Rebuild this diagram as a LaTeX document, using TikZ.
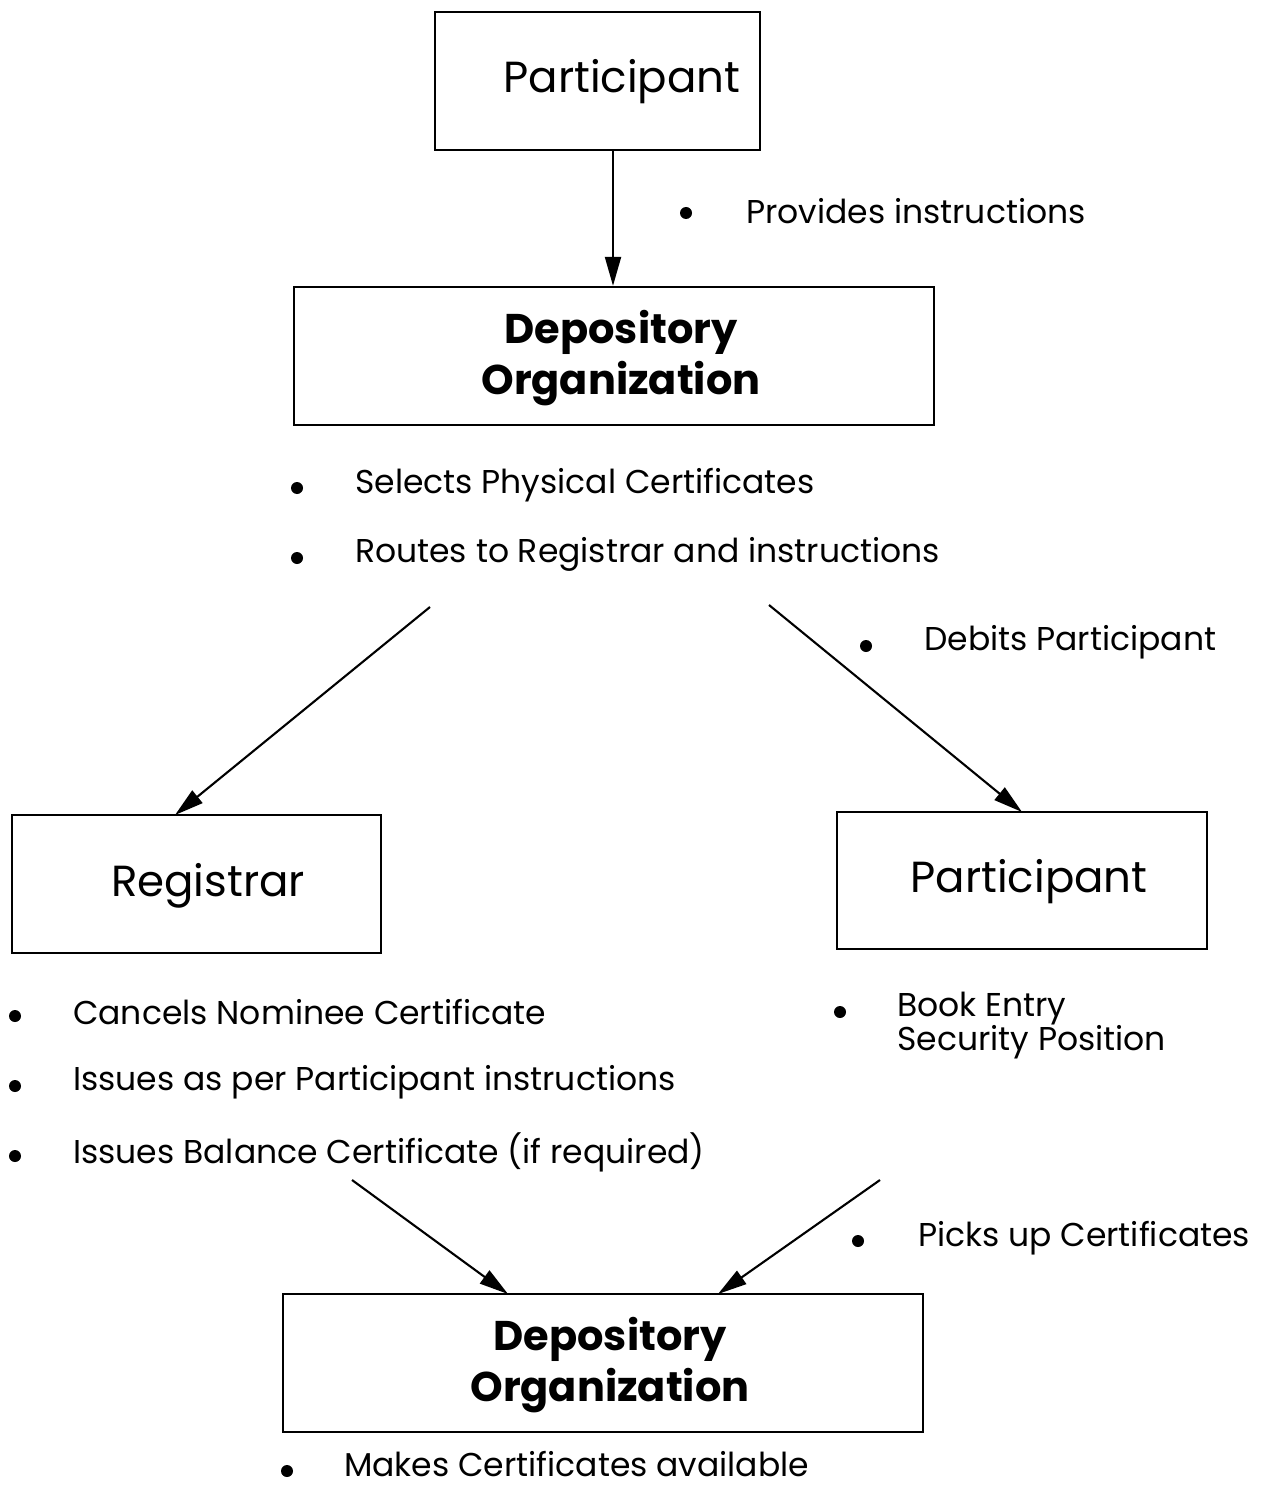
\documentclass[tikz,border=0pt]{standalone}
\usepackage{fontspec}
\setmainfont{Poppins}
\usetikzlibrary{arrows.meta,calc}
\begin{document}
\begin{tikzpicture}[x=1pt,y=-1pt,
  box/.style={draw, line width=2.3pt, inner sep=0pt},
  boxtext/.style={font=\fontsize{43.5}{48}\selectfont},
  boldtext/.style={font=\fontsize{41.5}{51}\selectfont\bfseries, align=center},
  bul/.style={circle, fill, inner sep=0pt, minimum size=12pt},
  btext/.style={anchor=west, inner sep=0pt, font=\fontsize{33}{36}\selectfont, align=left},
  arr/.style={line width=2.1pt, -{Triangle[length=29pt,width=16pt]}}]
\useasboundingbox (0,0) rectangle (1277,1487);
\fill[white] (0,0) rectangle (1277,1487);
% boxes
\node[box, minimum width=325pt, minimum height=138pt] (p1) at (597.5,81) {};
\node[boxtext] (p1t) at (622,82) {Participant};
\node[box, minimum width=640pt, minimum height=138pt] (d1) at (614,356) {};
\node[boldtext] (d1t) at (621,358) {Depository\\Organization};
\node[box, minimum width=369pt, minimum height=138pt] (reg) at (196.5,884) {};
\node[boxtext] (regt) at (208,886) {Registrar};
\node[box, minimum width=370pt, minimum height=137pt] (p2) at (1022,880.5) {};
\node[boxtext] (p2t) at (1029,882) {Participant};
\node[box, minimum width=640pt, minimum height=138pt] (d2) at (603,1363) {};
\node[boldtext] (d2t) at (610,1365) {Depository\\Organization};
% bullets and texts
\node[bul] (b1) at (686,213) {};
\node[btext] (t1) at (746,211) {Provides instructions};
\node[bul] (b2) at (297,488) {};
\node[btext] (t2) at (355,485) {Selects Physical Certificates};
\node[bul] (b3) at (297,558) {};
\node[btext] (t3) at (355,554) {Routes to Registrar and instructions};
\node[bul] (b4) at (866,646) {};
\node[btext] (t4) at (924,642) {Debits Participant};
\node[bul] (b5) at (15,1016) {};
\node[btext] (t5) at (73,1012) {Cancels Nominee Certificate};
\node[bul] (b6) at (15,1086) {};
\node[btext] (t6) at (73,1082) {Issues as per Participant instructions};
\node[bul] (b7) at (15,1156) {};
\node[btext] (t7) at (73,1152) {Issues Balance Certificate (if required)};
\node[bul] (b8) at (840,1012) {};
\node[btext] (t8) at (897,1026) {Book Entry\\[-2pt]Security Position};
\node[bul] (b9) at (858,1241) {};
\node[btext] (t9) at (918,1238) {Picks up Certificates};
\node[bul] (b10) at (287,1471) {};
\node[btext] (t10) at (344,1464) {Makes Certificates available};
% connectors
\coordinate (s1) at (430,607);
\coordinate (e1) at (175,815);
\coordinate (s2) at (769,605);
\coordinate (e2) at (1022,812);
\coordinate (s3) at (352,1180);
\coordinate (e3) at (508,1294);
\coordinate (s4) at (880,1180);
\coordinate (e4) at (718,1294);
\draw[arr] (p1.south -| 613,0) -- (d1.north -| 613,0);
\draw[arr] (s1) -- (e1);
\draw[arr] (s2) -- (e2);
\draw[arr] (s3) -- (e3);
\draw[arr] (s4) -- (e4);
\end{tikzpicture}
\end{document}
